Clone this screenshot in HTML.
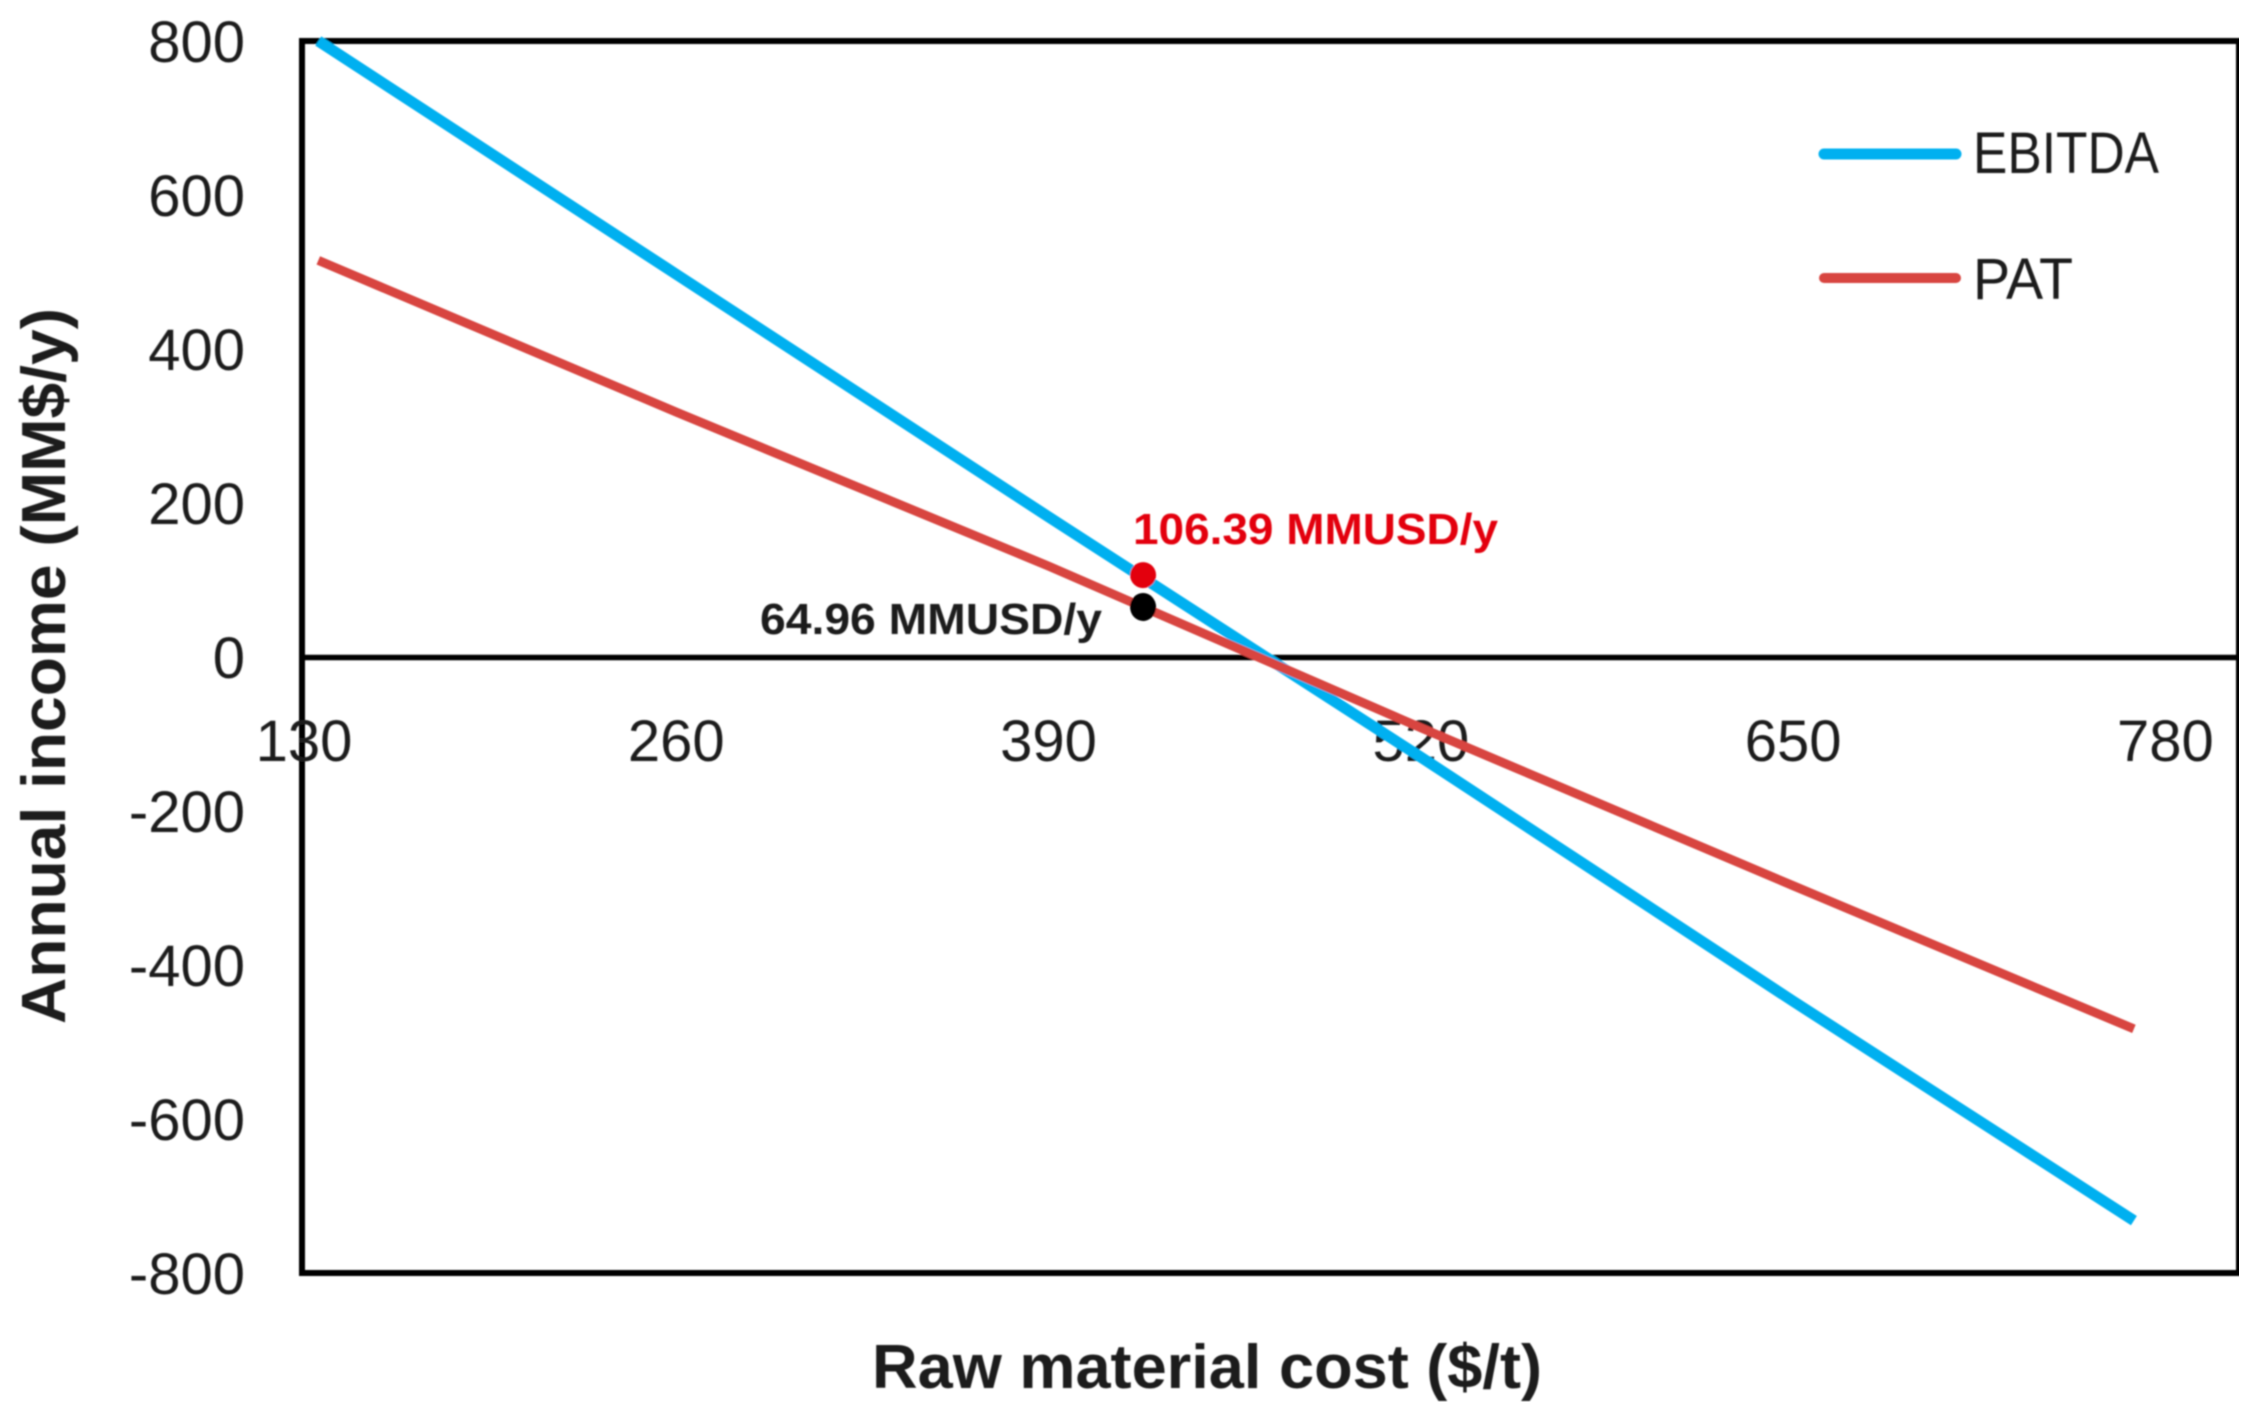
<!DOCTYPE html>
<html lang="en">
<head>
<meta charset="utf-8">
<title>Annual income vs raw material cost</title>
<style>
html,body{margin:0;padding:0;background:#fff;}
svg{display:block;}
text{font-family:"Liberation Sans",sans-serif;fill:#1c1c1c;}
</style>
</head>
<body>
<svg id="chart" xmlns="http://www.w3.org/2000/svg" width="2253" height="1413" viewBox="0 0 2253 1413">
  <defs><filter id="soft" x="0" y="0" width="100%" height="100%"><feGaussianBlur stdDeviation="0.9"/></filter></defs>
  <g id="root" filter="url(#soft)"></g>
</svg>
<script>
const xTickValues = [130, 260, 390, 520, 650, 780];
const yTickValues = [800, 600, 400, 200, 0, -200, -400, -600, -800];
const costs = [135, 260, 390, 520, 650, 769];
const ebitdaValues = [800, 497, 182, -130, -447, -732];
const patValues = [515, 318, 118, -92, -297, -483];
const highlightCost = [423];
const highlightEbitda = [106.39];
const highlightPat = [64.96];

const NS = 'http://www.w3.org/2000/svg';
const root = document.getElementById('root');
const plot = {left: 302, right: 2239, top: 41, bottom: 1273};
const xMin = 129.3, xMax = 805.7, yMin = -800, yMax = 800;
function xScale(v) { return plot.left + (v - xMin) / (xMax - xMin) * (plot.right - plot.left); }
function yScale(v) { return plot.bottom - (v - yMin) / (yMax - yMin) * (plot.bottom - plot.top); }
function make(tag, attrs, txt) {
  const el = document.createElementNS(NS, tag);
  for (const k in attrs) el.setAttribute(k, attrs[k]);
  if (txt !== undefined) el.textContent = txt;
  root.appendChild(el);
  return el;
}
function pathFrom(xs, ys) {
  return xs.map((x, i) => (i ? 'L' : 'M') + xScale(x).toFixed(1) + ' ' + yScale(ys[i]).toFixed(1)).join(' ');
}

let el;
el = make('rect', {x: plot.left, y: plot.top, width: plot.right - plot.left, height: plot.bottom - plot.top, fill: 'none', stroke: '#000', 'stroke-width': 6});



el = make('line', {x1: plot.left, x2: plot.right, y1: yScale(0) + 0.5, y2: yScale(0) + 0.5, stroke: '#000', 'stroke-width': 5.5});



yTickValues.forEach(function (v) {
  const t = make('text', {x: 245, y: yScale(v) + 21, 'text-anchor': 'end', 'font-size': 58}, String(v));
  
  
});
xTickValues.forEach(function (v) {
  const t = make('text', {x: xScale(v), y: 761, 'text-anchor': 'middle', 'font-size': 58}, String(v));
  
  
});

el = make('path', {d: pathFrom(costs, ebitdaValues), fill: 'none', stroke: '#00B0F0', 'stroke-width': 11});



el = make('path', {d: pathFrom(costs, patValues), fill: 'none', stroke: '#D8443F', 'stroke-width': 9});



el = make('ellipse', {cx: xScale(highlightCost[0]), cy: yScale(highlightEbitda[0]), rx: 13, ry: 13, fill: '#E3000F'});



el = make('ellipse', {cx: xScale(highlightCost[0]), cy: yScale(highlightPat[0]), rx: 13, ry: 14, fill: '#000'});



el = make('text', {x: 1133, y: 544, 'font-size': 44, 'font-weight': 'bold', style: 'fill:#E3000F', textLength: 365, lengthAdjust: 'spacingAndGlyphs'}, highlightEbitda[0] + ' MMUSD/y');



el = make('text', {x: 760, y: 634, 'font-size': 44, 'font-weight': 'bold', textLength: 342, lengthAdjust: 'spacingAndGlyphs'}, highlightPat[0] + ' MMUSD/y');



el = make('line', {x1: 1824, x2: 1956, y1: 154, y2: 154, stroke: '#00B0F0', 'stroke-width': 11, 'stroke-linecap': 'round'});



el = make('text', {x: 1973, y: 173, 'font-size': 58, textLength: 186, lengthAdjust: 'spacingAndGlyphs'}, 'EBITDA');



el = make('line', {x1: 1824, x2: 1956, y1: 278, y2: 278, stroke: '#D8443F', 'stroke-width': 10, 'stroke-linecap': 'round'});



el = make('text', {x: 1973, y: 299, 'font-size': 58, textLength: 100, lengthAdjust: 'spacingAndGlyphs'}, 'PAT');



el = make('text', {x: 872, y: 1388, 'font-size': 62, 'font-weight': 'bold', textLength: 670, lengthAdjust: 'spacingAndGlyphs'}, 'Raw material cost ($/t)');



el = make('text', {x: 0, y: 0, transform: 'translate(65 1024) rotate(-90)', 'font-size': 62, 'font-weight': 'bold', textLength: 716, lengthAdjust: 'spacingAndGlyphs'}, 'Annual income (MM$/y)');


</script>
</body>
</html>
